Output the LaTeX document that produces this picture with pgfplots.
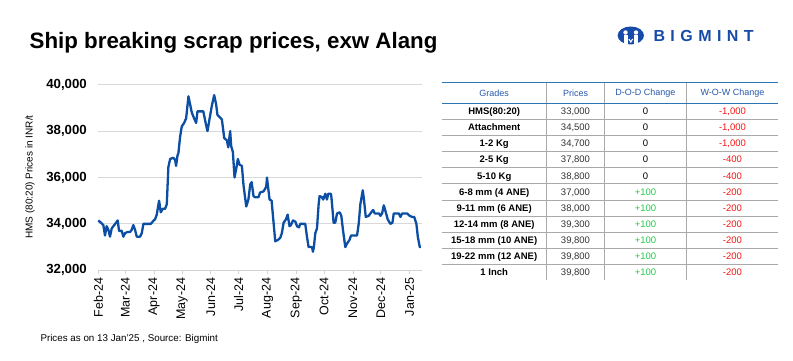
\documentclass[border=0pt]{standalone}
\usepackage{pgfplots}
\pgfplotsset{compat=1.18}
\usepackage{fontspec}
\setmainfont{Liberation Sans}
\definecolor{linecol}{RGB}{12,78,163}
\definecolor{logoblue}{RGB}{22,76,168}
\definecolor{hdrblue}{RGB}{38,88,170}
\definecolor{tblblue}{RGB}{46,117,182}
\definecolor{tblgray}{RGB}{170,170,170}
\definecolor{upgreen}{RGB}{40,200,80}
\definecolor{dnred}{RGB}{250,20,20}
\definecolor{prgray}{RGB}{50,50,50}
\begin{document}
\begin{tikzpicture}[x=1pt,y=1pt]
\path (0,0) rectangle (793,361);
% title
\node[anchor=base west, inner sep=0] at (29.5,312.5) {\fontsize{22.3}{26}\selectfont\bfseries Ship breaking scrap prices, exw Alang};
% logo
\fill[logoblue] (630.8,325.5) ellipse (13.2 and 9);
\fill[white] (625.5,328.5) circle (2.2);
\fill[white] (636,328.5) circle (2.2);
\fill[white] (623.5,317) rectangle (627.5,325.5);
\fill[white] (634,317) rectangle (638,325.5);
\fill[white] (628.3,322) -- (630.8,318) -- (633.3,322) -- (632,322) -- (630.8,320) -- (629.6,322) -- cycle;
\node[anchor=base west, inner sep=0, text=logoblue] at (653.3,319.3) {\fontsize{16}{16}\selectfont\bfseries\addfontfeature{LetterSpace=34}BIGMINT};
% y label
\node[rotate=90, inner sep=0, text=black] at (30,184) {\fontsize{10}{10}\selectfont HMS (80:20) Prices in INR/t};
% footer
\node[anchor=base west, inner sep=0] at (40.3,19.5) {\fontsize{9.8}{10}\selectfont Prices as on 13 Jan'25 , Source: Bigmint};
% chart
\begin{axis}[
  at={(98.3pt,90.7pt)}, anchor=south west,
  scale only axis, width=323.4pt, height=185.6pt,
  xmin=0, xmax=348, ymin=32000, ymax=40000,
  axis x line*=bottom, axis y line*=left,
  y axis line style={draw=none},
  x axis line style={draw=gray!35, line width=0.8pt},
  xtick={0,29,60,90,121,151,182,213,243,274,304,335},
  xticklabels={Feb-24,Mar-24,Apr-24,May-24,Jun-24,Jul-24,Aug-24,Sep-24,Oct-24,Nov-24,Dec-24,Jan-25},
  x tick label style={rotate=90, anchor=east, font=\fontsize{12.5}{12.5}\selectfont},
  xtick style={draw=gray!35, line width=0.8pt},
  tick align=outside, major tick length=4pt,
  ytick={32000,34000,36000,38000,40000},
  scaled y ticks=false,
  ytick style={draw=none},
  y tick label style={font=\bfseries\fontsize{13.2}{13.2}\selectfont, xshift=-4pt},
  ymajorgrids, grid style={gray!30, line width=0.8pt},
  clip=false,
  /pgf/number format/1000 sep={,},
  /pgf/number format/assume math mode=true,
]
\addplot[color=linecol, line width=2.3pt, line join=round, mark=none] table {
x y
0 34150
2.9 34050
5.4 33950
7.2 33500
9 33900
10.8 33750
12.6 33450
14.4 33800
16.2 33900
19.1 34050
20.9 34150
22.3 33700
25.2 33700
27 33450
28.8 33600
31.3 33650
34.2 33650
36 33750
37.7 33950
39.5 33750
41.4 33450
44.9 33450
46.8 33600
48.5 34000
52.2 34000
56.5 34000
58.6 34100
61.1 34200
62.9 34400
65.4 35000
67.2 34500
69.4 34650
71.9 34650
73.7 34850
75.4 36450
77.3 36800
80.8 36850
82.7 36750
83.7 36500
85.2 36950
86.2 37050
88 37750
89.8 38200
92.3 38350
94.5 38550
97 39500
98.8 39150
100.6 38800
103.1 38550
105.3 38350
106.7 38850
111.4 38850
113 38850
115.5 38350
117.5 38000
119.6 38500
122.2 39100
124.7 39550
126.8 39150
128.2 38700
130.5 38600
133 38500
135.5 37700
138.4 37600
139.8 37300
141.9 38000
143 37350
144.8 37100
146.6 36000
148.5 36400
150.2 36800
152 36550
154.5 36500
156.3 35650
159.2 34750
161.5 35050
163.5 35700
165 35800
167 35200
168.6 35150
172.4 35150
174 35350
177.8 35400
180.7 35600
181.5 36000
182.5 35650
184.3 35050
186.5 35000
188.6 34050
190.4 33250
193 33300
195.8 33400
197.5 33600
199.4 34050
202 34200
203.7 34400
205.8 33900
207.3 33950
209.5 34150
212 34100
213.8 33900
216 33850
217.3 34000
222.7 34000
224.5 33450
226.3 33000
229.9 33000
231 32800
232 33000
233.5 33600
235.3 33800
237.1 34850
238.1 35200
240.7 35150
242 35050
244.3 35300
246 35050
247.5 35300
250.4 35300
251.2 35000
253.2 34050
255 34050
256.9 34450
259.7 34500
261.5 34350
263.4 33700
265.8 33000
267.6 33150
270.2 33300
272 33500
278.4 33500
280.2 34000
282 34850
284.6 35450
286 35000
287.8 34300
291 34350
292.8 34450
295.7 34600
297.5 34450
302 34450
303.6 34350
305.4 34450
307.2 34800
309 34550
311.4 34200
314.3 34000
316.5 34050
317.9 34450
321.6 34450
323.4 34450
325.1 34300
327 34450
332.3 34450
335 34350
337.7 34300
340 34300
342.3 34000
343.8 33450
345.9 33000
347 33000
};
\end{axis}
% table lines
\foreach \yy in {241.6,225.5,209.4,193.3,177.2,161.1,145.0,128.9,112.8,96.7}
  \draw[tblgray, line width=0.7pt] (441.7,\yy) -- (778.3,\yy);
\foreach \xx in {546.7,604.3,686.7}
  \draw[tblgray, line width=0.7pt] (\xx,278.7) -- (\xx,80.6);
\draw[tblblue, line width=1.2pt] (441.7,278.7) -- (778.3,278.7);
\draw[tblblue, line width=1.2pt] (441.7,257.7) -- (778.3,257.7);
% header
\begin{scope}[every node/.style={inner sep=0, text=hdrblue, font=\fontsize{9}{9}\selectfont}]
\node at (494.2,268.2) {Grades};
\node at (575.5,268.2) {Prices};
\node at (645.5,268.2) {D-O-D Change};
\node at (732.5,268.2) {W-O-W Change};
\end{scope}
% rows
\begin{scope}[every node/.style={inner sep=0, anchor=base, font=\fontsize{9.5}{9.5}\selectfont}]
\def\rowA#1#2#3#4#5#6{%
  \node[font=\fontsize{9.5}{9.5}\selectfont\bfseries] at (494.2,#1) {#2};
  \node[text=prgray] at (575.5,#1) {#3};
  \node[text=#5] at (645.5,#1) {#4};
  \node[text=dnred] at (732.5,#1) {#6};}
\rowA{246.3}{HMS(80:20)}{33,000}{0}{black}{-1,000}
\rowA{230.2}{Attachment}{34,500}{0}{black}{-1,000}
\rowA{214.1}{1-2 Kg}{34,700}{0}{black}{-1,000}
\rowA{198.0}{2-5 Kg}{37,800}{0}{black}{-400}
\rowA{181.9}{5-10 Kg}{38,800}{0}{black}{-400}
\rowA{165.8}{6-8 mm (4 ANE)}{37,000}{+100}{upgreen}{-200}
\rowA{149.7}{9-11 mm (6 ANE)}{38,000}{+100}{upgreen}{-200}
\rowA{133.6}{12-14 mm (8 ANE)}{39,300}{+100}{upgreen}{-200}
\rowA{117.5}{15-18 mm (10 ANE)}{39,800}{+100}{upgreen}{-200}
\rowA{101.4}{19-22 mm (12 ANE)}{39,800}{+100}{upgreen}{-200}
\rowA{85.3}{1 Inch}{39,800}{+100}{upgreen}{-200}
\end{scope}
\end{tikzpicture}
\end{document}
